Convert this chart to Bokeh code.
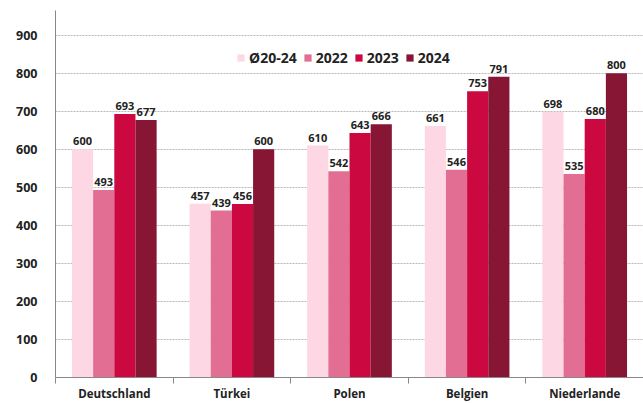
from bokeh.plotting import figure
from bokeh.models import ColumnDataSource, FixedTicker, Range1d, Legend, LegendItem, LabelSet
from bokeh.core.properties import value
from bokeh.embed import file_html
from bokeh.resources import INLINE

countries = ["Deutschland", "Türkei", "Polen", "Belgien", "Niederlande"]
series_names = ["Ø20-24", "2022", "2023", "2024"]
avg_20_24 = [600, 457, 610, 661, 698]
v2022 = [493, 439, 542, 546, 535]
v2023 = [693, 456, 643, 753, 680]
v2024 = [677, 600, 666, 791, 800]
y_ticks = [0, 100, 200, 300, 400, 500, 600, 700, 800, 900]

colors = ["#FDD8E4", "#E36E93", "#CC0841", "#861633"]
FONT = "Open Sans"

p = figure(width=643, height=403, output_backend="svg", toolbar_location=None,
           x_range=Range1d(0, 5), y_range=Range1d(0, 965),
           min_border_left=55, min_border_right=0, min_border_top=10, min_border_bottom=20)
p.outline_line_color = None
p.background_fill_color = "white"
p.border_fill_color = "white"

bar_w = 0.18
offsets = [-0.27, -0.09, 0.09, 0.27]
centers = [i + 0.5 for i in range(len(countries))]
items = []
for vals, off, col, name in zip([avg_20_24, v2022, v2023, v2024], offsets, colors, series_names):
    src = ColumnDataSource(dict(x=[c + off for c in centers], top=vals,
                                lbl=[str(v) for v in vals]))
    r = p.vbar(x="x", top="top", width=bar_w, source=src, fill_color=col, line_color=None)
    items.append(LegendItem(label=name, renderers=[r]))
    p.add_layout(LabelSet(x="x", y="top", text="lbl", source=src, text_align="center",
                          text_baseline="bottom", y_offset=4, text_font=value(FONT),
                          text_font_size="11px", text_font_style="bold",
                          text_color="#222222"))

legend = Legend(items=items, orientation="horizontal", location=(181, 310),
                border_line_color=None, background_fill_alpha=0,
                label_text_font=FONT, label_text_font_size="14px",
                label_text_font_style="bold", label_text_color="#222222",
                glyph_width=9, glyph_height=9, spacing=6, label_standoff=4,
                padding=0, margin=0)
p.add_layout(legend, "center")

# x axis: labels at category centres, tick marks at the boundaries
p.xaxis.ticker = FixedTicker(ticks=centers, minor_ticks=[0, 1, 2, 3, 4, 5])
p.xaxis.major_label_overrides = {c: n for c, n in zip(centers, countries)}
p.xaxis.major_tick_out = 0
p.xaxis.major_tick_in = 0
p.xaxis.minor_tick_out = 6
p.xaxis.minor_tick_in = 0
p.xaxis.minor_tick_line_color = "#888888"
p.xaxis.axis_line_color = "#888888"
p.xaxis.major_label_text_font = FONT
p.xaxis.major_label_text_font_size = "11.5px"
p.xaxis.major_label_text_font_style = "bold"
p.xaxis.major_label_text_color = "#222222"
p.xaxis.major_label_standoff = 2

p.yaxis.ticker = FixedTicker(ticks=y_ticks, minor_ticks=[])
p.yaxis.major_tick_out = 0
p.yaxis.major_tick_in = 0
p.yaxis.axis_line_color = "#888888"
p.yaxis.major_label_text_font = FONT
p.yaxis.major_label_text_font_size = "12.5px"
p.yaxis.major_label_text_font_style = "bold"
p.yaxis.major_label_text_color = "#222222"
p.yaxis.major_label_standoff = 18

p.xgrid.grid_line_color = None
p.ygrid.grid_line_color = "#b8b8b8"
p.ygrid.grid_line_dash = "2 1"
p.ygrid.grid_line_width = 1

open("out.html", "w").write(file_html(p, INLINE))
